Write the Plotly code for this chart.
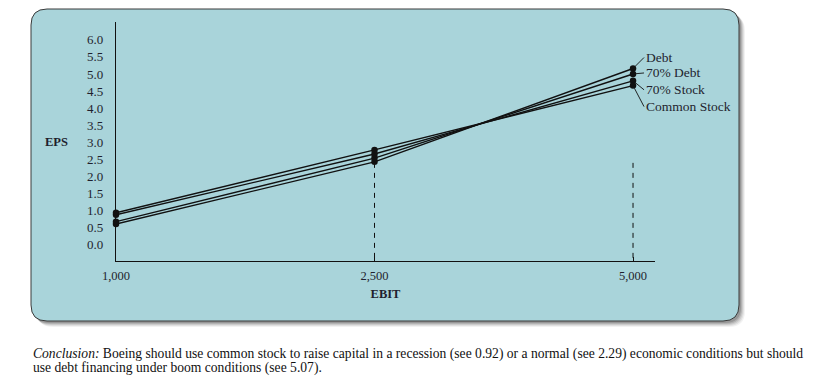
import plotly.graph_objects as go

# ---- data ----
ebit_labels = ["1,000", "2,500", "5,000"]
series_names = ["Debt", "70% Debt", "70% Stock", "Common Stock"]
eps_debt = [0.61, 2.43, 5.16]
eps_70debt = [0.68, 2.54, 5.00]
eps_70stock = [0.88, 2.66, 4.80]
eps_common = [0.94, 2.78, 4.66]
y_ticks = [0.0, 0.5, 1.0, 1.5, 2.0, 2.5, 3.0, 3.5, 4.0, 4.5, 5.0, 5.5, 6.0]
dash_top = [2.4, 2.4]
dash_x = ["2,500", "5,000"]
conclusion_lines = [
    "<i>Conclusion:</i> Boeing should use common stock to raise capital in a recession (see 0.92) "
    "or a normal (see 2.29) economic conditions but should",
    "use debt financing under boom conditions (see 5.07).",
]

OFF = 8  # page body margin
W, H = 813 - OFF, 377 - OFF
L, R, T, B = 116, 655, 22, 261  # plot area in page pixels
Y0, Y1 = -0.47, 6.52
X0, X1 = 0, 2.085

def px(x):
    return (x - L) / (R - L)

def py(y):
    return (B - y) / (B - T)

def rrect(x0, y0, x1, y1, r):
    return (f"M {px(x0+r)},{py(y0)} L {px(x1-r)},{py(y0)} Q {px(x1)},{py(y0)} {px(x1)},{py(y0+r)} "
            f"L {px(x1)},{py(y1-r)} Q {px(x1)},{py(y1)} {px(x1-r)},{py(y1)} "
            f"L {px(x0+r)},{py(y1)} Q {px(x0)},{py(y1)} {px(x0)},{py(y1-r)} "
            f"L {px(x0)},{py(y0+r)} Q {px(x0)},{py(y0)} {px(x0+r)},{py(y0)} Z")

SERIF = "Liberation Serif"
TXT = "#1f1f2e"

fig = go.Figure()

series = [eps_debt, eps_70debt, eps_70stock, eps_common]
for name, vals in zip(series_names, series):
    fig.add_trace(go.Scatter(
        x=ebit_labels, y=vals, mode="lines+markers", name=name,
        line=dict(color="#111111", width=1.4),
        marker=dict(color="#111111", size=6.5),
        showlegend=False, cliponaxis=False))

for xv, yt in zip(dash_x, dash_top):
    fig.add_trace(go.Scatter(
        x=[xv, xv], y=[yt, Y0], mode="lines",
        line=dict(color="#111111", width=1, dash="5px,5px"),
        showlegend=False, hoverinfo="skip"))

shapes = []
# shadow
for i, op in [(6, 0.05), (5, 0.07), (4, 0.09), (3, 0.12), (2, 0.15)]:
    shapes.append(dict(type="path", xref="paper", yref="paper",
                       path=rrect(31 + i, 9 + i, 739 + i, 321 + i, 16),
                       fillcolor=f"rgba(0,0,0,{op})", line=dict(width=0), layer="below"))
shapes.append(dict(type="path", xref="paper", yref="paper",
                   path=rrect(31, 9, 739, 321, 16),
                   fillcolor="#A9D4DA", line=dict(color="#3a3a3a", width=1), layer="below"))

annotations = [
    dict(text="<b>EPS</b>", xref="paper", yref="paper", x=px(57), y=py(142),
         xanchor="center", yanchor="middle",
         showarrow=False, font=dict(family=SERIF, size=12.5, color=TXT)),
]
for line_text, yc in zip(conclusion_lines, [354, 368]):
    annotations.append(dict(
        text=line_text, xref="paper", yref="paper", x=px(31), y=py(yc),
        xanchor="left", yanchor="middle", align="left", showarrow=False,
        font=dict(family=SERIF, size=13.6, color="#111111")))

label_offsets = [(11, -11), (11, -1), (11, 9), (11, 21)]
for name, vals, (ax, ay) in zip(series_names, series, label_offsets):
    annotations.append(dict(
        text=name, x=ebit_labels[2], y=vals[2], xref="x", yref="y",
        ax=ax, ay=ay, xanchor="left", yanchor="middle", showarrow=True,
        arrowhead=0, arrowwidth=0.9, arrowcolor="#111111", standoff=3,
        font=dict(family=SERIF, size=13.5, color=TXT)))

fig.update_layout(
    width=W, height=H,
    margin=dict(l=L - OFF, r=813 - R, t=T - OFF, b=377 - B, pad=0),
    paper_bgcolor="white", plot_bgcolor="rgba(0,0,0,0)",
    shapes=shapes, annotations=annotations,
    xaxis=dict(type="category", range=[X0, X1], showgrid=False, zeroline=False,
               showline=True, linecolor="#111111", linewidth=1.2,
               ticks="inside", ticklen=4, tickcolor="#111111",
               tickfont=dict(family=SERIF, size=12.5, color=TXT),
               ticklabelstandoff=3,
               title=dict(text="<b>EBIT</b>", font=dict(family=SERIF, size=12.5, color=TXT), standoff=7)),
    yaxis=dict(range=[Y0, Y1], showgrid=False, zeroline=False,
               showline=True, linecolor="#111111", linewidth=1.2,
               tickvals=y_ticks, ticktext=[f"{v:.1f}" for v in y_ticks], ticks="",
               tickfont=dict(family=SERIF, size=13, color=TXT), ticklabelstandoff=9),
)

fig.write_html("out.html")
